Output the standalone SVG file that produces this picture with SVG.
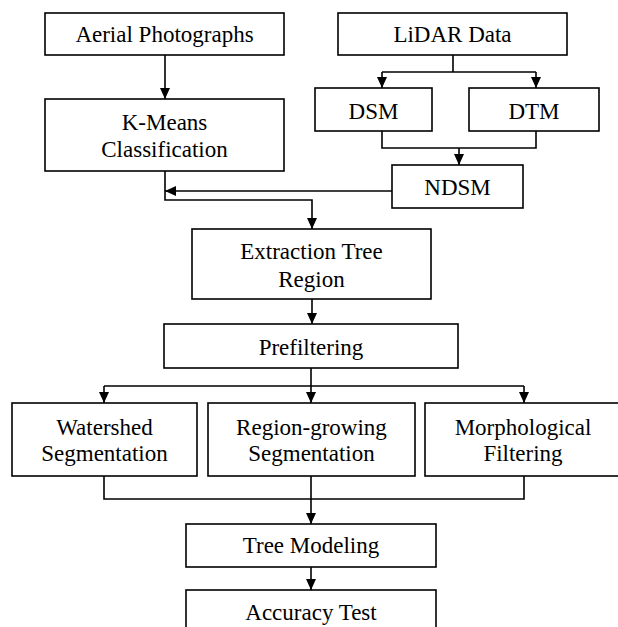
<svg xmlns="http://www.w3.org/2000/svg" width="618" height="627" viewBox="0 0 618 627">
<style>
.box{fill:#fff;stroke:#000;stroke-width:1.6}
.t{font-family:"Liberation Serif","Times New Roman",serif;font-size:23px;fill:#000;text-anchor:middle}
.c{fill:none;stroke:#000;stroke-width:1.6}
</style>
<defs>
<marker id="ah" markerUnits="userSpaceOnUse" markerWidth="12" markerHeight="12" viewBox="0 0 12 12" refX="11" refY="6" orient="auto">
<path d="M0,1 L11,6 L0,11 Z" fill="#000"/>
</marker>
</defs>
<rect width="618" height="627" fill="#fff"/>
<g id="connectors">
<path class="c" d="M165,55 V99" marker-end="url(#ah)"/>
<path class="c" d="M165,171 V200 H312 V229" marker-end="url(#ah)"/>
<path class="c" d="M392,191 H165" marker-end="url(#ah)"/>
<path class="c" d="M453,55 V72 M382,72 H536"/>
<path class="c" d="M382,72 V88" marker-end="url(#ah)"/>
<path class="c" d="M536,72 V88" marker-end="url(#ah)"/>
<path class="c" d="M382,131 V148 H536 V131"/>
<path class="c" d="M459,148 V165" marker-end="url(#ah)"/>
<path class="c" d="M312,299 V324" marker-end="url(#ah)"/>
<path class="c" d="M311,368 V386 M104,386 H524"/>
<path class="c" d="M104,386 V403" marker-end="url(#ah)"/>
<path class="c" d="M311,386 V403" marker-end="url(#ah)"/>
<path class="c" d="M524,386 V403" marker-end="url(#ah)"/>
<path class="c" d="M104,476 V499 H524 V476 M311,476 V499"/>
<path class="c" d="M311,499 V524" marker-end="url(#ah)"/>
<path class="c" d="M311,567 V590" marker-end="url(#ah)"/>
</g>
<g id="aerial"><rect class="box" x="45" y="13" width="239" height="42"/><text class="t" x="164.5" y="42">Aerial Photographs</text></g>
<g id="kmeans"><rect class="box" x="45" y="99" width="239" height="72"/><text class="t" x="164.5" y="130">K-Means</text><text class="t" x="164.5" y="157">Classification</text></g>
<g id="lidar"><rect class="box" x="338" y="13" width="229" height="42"/><text class="t" x="452.5" y="42">LiDAR Data</text></g>
<g id="dsm"><rect class="box" x="315" y="88" width="117" height="43"/><text class="t" x="373.5" y="119">DSM</text></g>
<g id="dtm"><rect class="box" x="469" y="88" width="130" height="43"/><text class="t" x="534" y="119">DTM</text></g>
<g id="ndsm"><rect class="box" x="392" y="165" width="131" height="43"/><text class="t" x="457.5" y="195">NDSM</text></g>
<g id="extraction"><rect class="box" x="192" y="229" width="239" height="70"/><text class="t" x="311.5" y="259">Extraction Tree</text><text class="t" x="311.5" y="287">Region</text></g>
<g id="prefiltering"><rect class="box" x="164" y="324" width="294" height="44"/><text class="t" x="311" y="355">Prefiltering</text></g>
<g id="watershed"><rect class="box" x="12" y="403" width="185" height="73"/><text class="t" x="104.5" y="435">Watershed</text><text class="t" x="104.5" y="461">Segmentation</text></g>
<g id="regiongrowing"><rect class="box" x="208" y="403" width="207" height="73"/><text class="t" x="311.5" y="435">Region-growing</text><text class="t" x="311.5" y="461">Segmentation</text></g>
<g id="morphological"><rect class="box" x="425" y="403" width="196" height="73"/><text class="t" x="523" y="435">Morphological</text><text class="t" x="523" y="461">Filtering</text></g>
<g id="treemodeling"><rect class="box" x="186" y="524" width="250" height="43"/><text class="t" x="311" y="553">Tree Modeling</text></g>
<g id="accuracy"><rect class="box" x="186" y="590" width="250" height="50"/><text class="t" x="311" y="620">Accuracy Test</text></g>
</svg>
